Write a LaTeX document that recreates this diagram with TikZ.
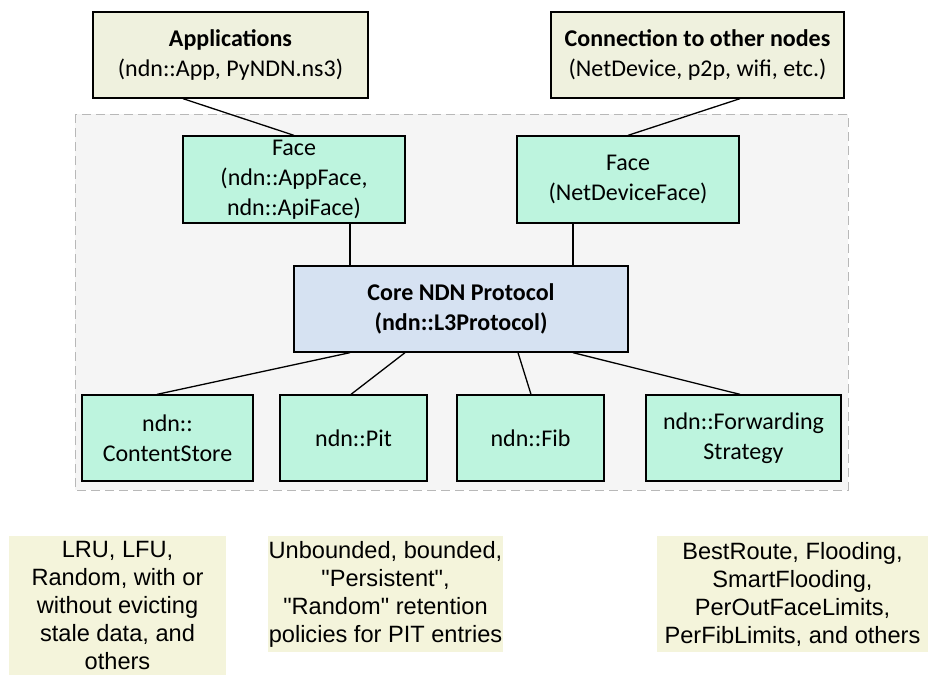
\documentclass[tikz,border=0pt]{standalone}
\usepackage{fontspec}
\setmainfont{Carlito}
\newfontfamily\notefont{Liberation Sans}
\definecolor{topfill}{HTML}{EFF1DE}
\definecolor{mint}{HTML}{BDF4DE}
\definecolor{corefill}{HTML}{D6E2F2}
\definecolor{contfill}{HTML}{F5F5F5}
\definecolor{contline}{HTML}{B8B8B8}
\definecolor{notefill}{HTML}{F4F4DB}
\begin{document}
\begin{tikzpicture}[x=1pt,y=-1pt,
  box/.style={draw=black,line width=1.3pt,rectangle,inner sep=0pt,align=center,
    font=\fontsize{24}{30}\selectfont},
  topbox/.style={box,fill=topfill},
  mintbox/.style={box,fill=mint},
  corebox/.style={box,fill=corefill},
  notebox/.style={rectangle,fill=notefill,inner sep=0pt,align=center,
    font=\notefont\fontsize{23.6}{28}\selectfont},
  link/.style={draw=black,line width=1.3pt}]
\useasboundingbox (0,0) rectangle (928,675);
\fill[white] (0,0) rectangle (928,675);
% container
\draw[contline,fill=contfill,line width=1pt,dash pattern=on 9pt off 5pt] (75,114) rectangle (848,490);
% top boxes
\node[topbox,minimum width=275pt,minimum height=86pt] (app) at (230.5,55)
  {\textbf{Applications}\\(ndn::App, PyNDN.ns3)};
\node[topbox,minimum width=293pt,minimum height=86pt] (conn) at (697.5,55)
  {\textbf{Connection to other nodes}\\(NetDevice, p2p, wifi, etc.)};
% faces
\node[mintbox,minimum width=222pt,minimum height=87pt] (face1) at (294,179.5)
  {Face\\(ndn::AppFace,\\ndn::ApiFace)};
\node[mintbox,minimum width=222pt,minimum height=87pt] (face2) at (628,179.5)
  {Face\\(NetDeviceFace)};
% core
\node[corebox,minimum width=334pt,minimum height=86pt] (core) at (461,309)
  {\textbf{Core NDN Protocol}\\\textbf{(ndn::L3Protocol)}};
% bottom boxes
\node[mintbox,minimum width=171pt,minimum height=86pt] (cs) at (167.5,438)
  {ndn::\\ContentStore};
\node[mintbox,minimum width=147pt,minimum height=86pt] (pit) at (353.5,438)
  {ndn::Pit};
\node[mintbox,minimum width=147pt,minimum height=86pt] (fib) at (530.5,438)
  {ndn::Fib};
\node[mintbox,minimum width=195pt,minimum height=86pt] (fs) at (743.5,438)
  {ndn::Forwarding\\Strategy};
% notes
\node[notebox,minimum width=217pt,minimum height=139pt] (n1) at (117.5,605.5)
  {LRU, LFU,\\Random, with or\\without evicting\\stale data, and\\others};
\node[notebox,minimum width=235pt,minimum height=116pt] (n2) at (385.5,594)
  {Unbounded, bounded,\\"Persistent",\\"Random" retention\\policies for PIT entries};
\node[notebox,minimum width=271pt,minimum height=116pt] (n3) at (792.5,594)
  {BestRoute, Flooding,\\SmartFlooding,\\PerOutFaceLimits,\\PerFibLimits, and others};
% connectors
\coordinate (xa) at (183,0);
\coordinate (xb) at (740,0);
\coordinate (xf1) at (350,0);
\coordinate (xf2) at (573,0);
\coordinate (c1) at (350,0);
\coordinate (c1e) at (157,0);
\coordinate (c2) at (405,0);
\coordinate (c2e) at (351,0);
\coordinate (c3) at (518,0);
\coordinate (c3e) at (531,0);
\coordinate (c4) at (573,0);
\coordinate (c4e) at (740,0);
\draw[link] (app.south -| xa) -- (face1.north);
\draw[link] (conn.south -| xb) -- (face2.north);
\draw[link] (face1.south -| xf1) -- (core.north -| xf1);
\draw[link] (face2.south -| xf2) -- (core.north -| xf2);
\draw[link] (core.south -| c1) -- (cs.north -| c1e);
\draw[link] (core.south -| c2) -- (pit.north -| c2e);
\draw[link] (core.south -| c3) -- (fib.north -| c3e);
\draw[link] (core.south -| c4) -- (fs.north -| c4e);
\end{tikzpicture}
\end{document}
